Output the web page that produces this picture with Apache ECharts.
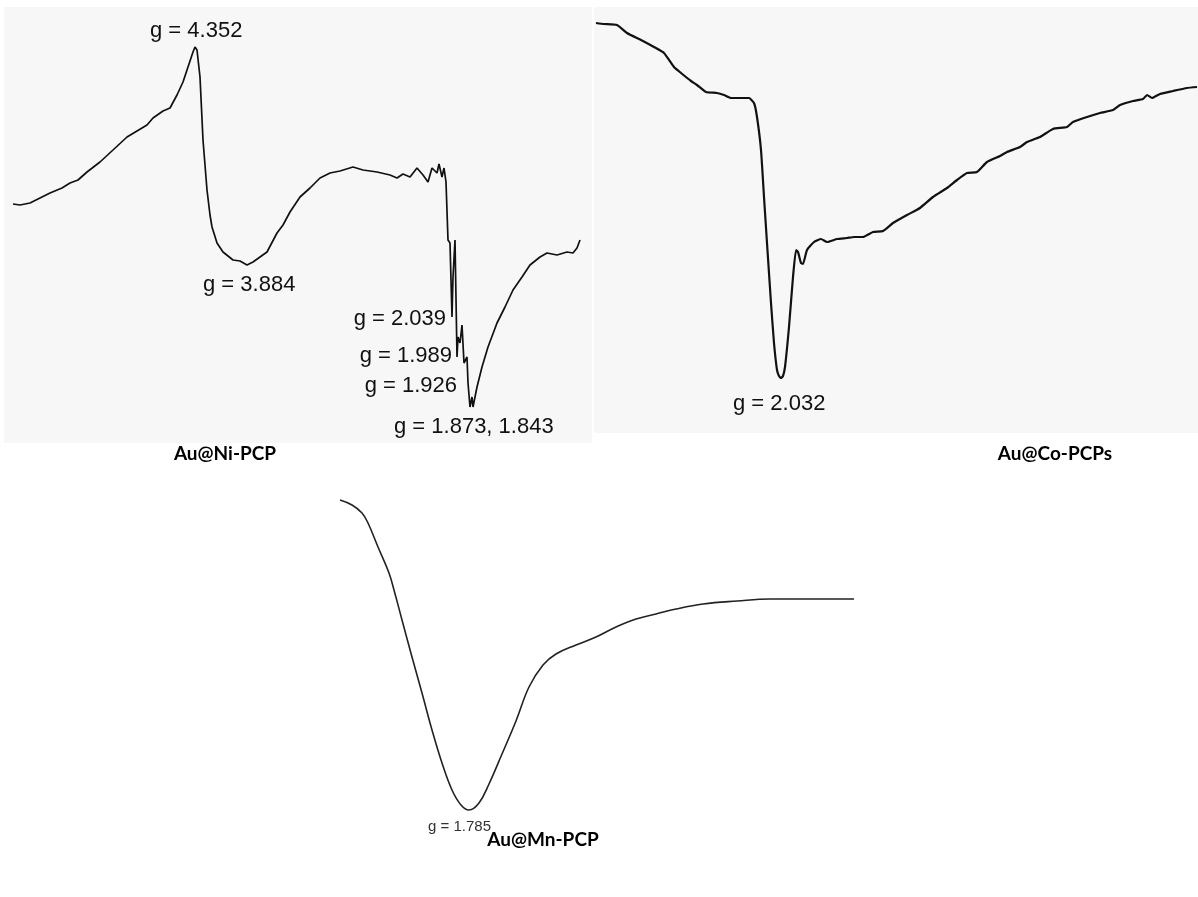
<!DOCTYPE html>
<html>
<head>
<meta charset="utf-8">
<script src="https://cdn.jsdelivr.net/npm/echarts@6/dist/echarts.min.js"></script>
<style>
html,body{margin:0;padding:0;background:#ffffff;}
#chart{width:1198px;height:897px;}
</style>
</head>
<body>
<div id="chart"></div>
<script>
// EPR spectra, field (arbitrary units) vs. derivative signal (arbitrary units)
const niField = [13,20,30,40,50,62,70,78,87,100,113,127,137,147,153,163,170,177,183,188,193,195,197,200,203,207,210,212,217,223,233,240,247,253,260,267,277,283,290,300,310,320,330,340,353,363,377,390,397,403,410,417,423,428,432,437,439,442,444,446,448,450,452,453,455,457,458,460,462,464,467,468,470,472,473,477,482,488,497,505,513,522,530,540,547,557,567,573,577,580];
const niSignal = [239,238,240,245,250,255,260,263,271,281,293,306,312,318,325,332,335,348,361,376,391,396,393,366,303,253,228,216,200,191,183,182,178,181,186,191,210,218,231,246,255,265,270,272,276,273,271,268,265,269,266,275,268,261,275,270,279,266,275,261,203,200,126,166,203,86,106,100,118,80,86,60,36,46,36,56,76,96,120,136,153,166,178,186,190,188,191,190,195,203];

const coField = [596,604,617,627,641,654,664,674,681,691,697,706,717,724,731,741,749,754,757,761,764,767,771,774,777,779,781,783,785,789,793,796,798,801,803,807,814,821,827,837,847,854,863,873,883,893,907,920,933,947,957,967,977,987,1000,1007,1020,1027,1040,1053,1067,1073,1087,1100,1113,1120,1133,1143,1147,1152,1160,1173,1187,1197];
const coSignal = [410,409,408,400,393,386,380,366,360,352,348,341,340,338,335,335,335,330,316,283,236,190,130,90,63,57,55,57,66,106,156,183,181,170,169,183,191,194,191,194,195,196,196,201,202,210,218,225,236,245,253,260,261,271,277,281,286,291,296,304,306,311,316,320,323,328,332,334,338,335,339,342,345,346];

const mnField = [340,352,362,368,378,389,394,402,412,422,432,442,452,461,469,479,489,502,516,529,543,556,576,596,616,636,656,676,703,737,770,804,854];
const mnSignal = [330,325,317,307,283,257,240,210,173,137,100,67,40,25,20,27,46,76,109,143,165,176,185,193,203,211,216,221,226,229,231,231,231];

const panelTitles = ['Au@Ni-PCP', 'Au@Co-PCPs', 'Au@Mn-PCP'];
const niPeakLabels = ['g = 4.352', 'g = 3.884', 'g = 2.039', 'g = 1.989', 'g = 1.926', 'g = 1.873, 1.843'];
const coPeakLabels = ['g = 2.032'];
const mnPeakLabels = ['g = 1.785'];

function zip(a, b) { return a.map((v, i) => [v, b[i]]); }

const chart = echarts.init(document.getElementById('chart'), null, {renderer: 'canvas'});

const labelFont = 'Liberation Sans, Arial, sans-serif';
const titleFont = 'Lato, Open Sans, sans-serif';

function txt(x, y, s, opts) {
  return {
    type: 'text', x: x, y: y,
    style: Object.assign({
      text: s, font: '22px ' + labelFont, fill: '#111',
      textAlign: 'left', textVerticalAlign: 'middle'
    }, opts || {})
  };
}
const titleStyle = {font: 'bold 19px ' + titleFont, textAlign: 'center', fill: '#000'};

const option = {
  backgroundColor: '#ffffff',
  animation: false,
  grid: [
    {left: 4, top: 7, width: 588, height: 436, show: true, backgroundColor: '#f7f7f7', borderWidth: 0},
    {left: 594, top: 7, width: 604, height: 426, show: true, backgroundColor: '#f7f7f7', borderWidth: 0},
    {left: 335, top: 490, width: 525, height: 340, show: false}
  ],
  xAxis: [
    {gridIndex: 0, type: 'value', min: 4, max: 592, show: false},
    {gridIndex: 1, type: 'value', min: 594, max: 1198, show: false},
    {gridIndex: 2, type: 'value', min: 335, max: 860, show: false}
  ],
  yAxis: [
    {gridIndex: 0, type: 'value', min: 0, max: 436, show: false},
    {gridIndex: 1, type: 'value', min: 0, max: 426, show: false},
    {gridIndex: 2, type: 'value', min: 0, max: 340, show: false}
  ],
  series: [
    {type: 'line', xAxisIndex: 0, yAxisIndex: 0, data: zip(niField, niSignal), showSymbol: false,
     lineStyle: {color: '#111', width: 1.7}},
    {type: 'line', xAxisIndex: 1, yAxisIndex: 1, data: zip(coField, coSignal), showSymbol: false, smooth: 0.15,
     lineStyle: {color: '#111', width: 2.2}},
    {type: 'line', xAxisIndex: 2, yAxisIndex: 2, data: zip(mnField, mnSignal), showSymbol: false, smooth: 0.4,
     lineStyle: {color: '#222', width: 1.6}}
  ],
  graphic: [
    txt(150, 31, niPeakLabels[0]),
    txt(203, 285, niPeakLabels[1]),
    txt(446, 319, niPeakLabels[2], {textAlign: 'right'}),
    txt(452, 356, niPeakLabels[3], {textAlign: 'right'}),
    txt(457, 386, niPeakLabels[4], {textAlign: 'right'}),
    txt(394, 427, niPeakLabels[5]),
    txt(733, 404, coPeakLabels[0]),
    txt(428, 827, mnPeakLabels[0], {font: '15px ' + labelFont, fill: '#333'}),
    txt(225, 454, panelTitles[0], titleStyle),
    txt(1055, 454, panelTitles[1], titleStyle),
    txt(543, 840, panelTitles[2], titleStyle)
  ]
};
chart.setOption(option);
</script>
</body>
</html>
